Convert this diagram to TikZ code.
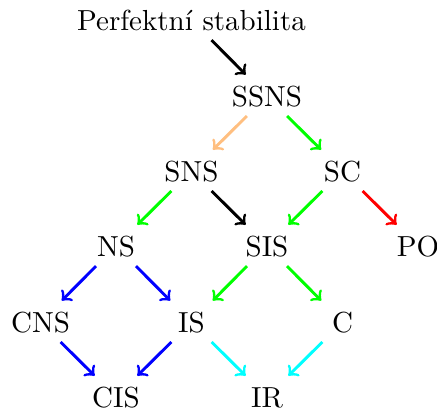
\documentclass[tikz,border=0pt]{standalone}
\definecolor{aqualine}{RGB}{0,255,255}
\definecolor{limeline}{RGB}{0,255,0}
\definecolor{peachline}{RGB}{255,191,128}
\begin{document}
\begin{tikzpicture}[x=0.3448pt, y=-0.3448pt,
    lbl/.style={inner sep=0pt, text height=6.9pt, text depth=0pt},
    arr/.style={->, line width=1pt, shorten <=9.8pt, shorten >=10.4pt}]
  \useasboundingbox (0,0) rectangle (437,412);

  % concepts on a diagonal lattice
  \node[lbl] (perf) at (191.5,20)  {Perfektní stabilita};
  \node[lbl] (ssns) at (267,96)    {SSNS};
  \node[lbl] (sns)  at (191.5,171) {SNS};
  \node[lbl] (sc)   at (342.5,171) {SC};
  \node[lbl] (ns)   at (116,246)   {NS};
  \node[lbl] (sis)  at (267,246)   {SIS};
  \node[lbl] (po)   at (418,246)   {PO};
  \node[lbl] (cns)  at (40.5,322)  {CNS};
  \node[lbl] (is)   at (191.5,322) {IS};
  \node[lbl] (c)    at (342.5,322) {C};
  \node[lbl] (cis)  at (116,397)   {CIS};
  \node[lbl] (ir)   at (267,397)   {IR};

  % implications
  \draw[arr, black]      (perf.center) -- (ssns.center);
  \draw[arr, peachline]  (ssns.center) -- (sns.center);
  \draw[arr, limeline]   (ssns.center) -- (sc.center);
  \draw[arr, limeline]   (sns.center)  -- (ns.center);
  \draw[arr, black]      (sns.center)  -- (sis.center);
  \draw[arr, limeline]   (sc.center)   -- (sis.center);
  \draw[arr, red]        (sc.center)   -- (po.center);
  \draw[arr, blue]       (ns.center)   -- (cns.center);
  \draw[arr, blue]       (ns.center)   -- (is.center);
  \draw[arr, limeline]   (sis.center)  -- (is.center);
  \draw[arr, limeline]   (sis.center)  -- (c.center);
  \draw[arr, blue]       (cns.center)  -- (cis.center);
  \draw[arr, blue]       (is.center)   -- (cis.center);
  \draw[arr, aqualine]   (is.center)   -- (ir.center);
  \draw[arr, aqualine]   (c.center)    -- (ir.center);
\end{tikzpicture}
\end{document}
